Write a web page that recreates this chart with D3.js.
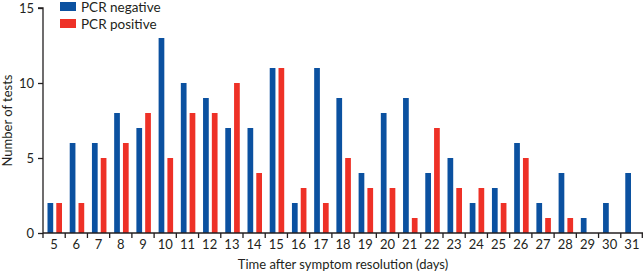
<!DOCTYPE html>
<html>
<head>
<meta charset="utf-8">
<script src="https://cdn.jsdelivr.net/npm/d3@7"></script>
<style>
  body { margin: 0; background: #fff; }
  text { font-family: Lato, "Open Sans", sans-serif; fill: #231f20; }
</style>
</head>
<body>
<svg id="chart"></svg>
<script>
var days = [5,6,7,8,9,10,11,12,13,14,15,16,17,18,19,20,21,22,23,24,25,26,27,28,29,30,31];
var pcrNegative = [2,6,6,8,7,13,10,9,7,7,11,2,11,9,4,8,9,4,5,2,3,6,2,4,1,2,4];
var pcrPositive = [2,2,5,6,8,5,8,8,10,4,11,3,2,5,3,3,1,7,3,3,2,5,1,1,0,0,0];
var yTicks = [0, 5, 10, 15];

var margin = {top: 8, left: 43, right: 0, bottom: 40};
var width = 643, height = 273;
var chartWidth = width - margin.left - margin.right;
var chartHeight = height - margin.top - margin.bottom;

var svg = d3.select('#chart')
    .attr('width', width)
    .attr('height', height);

var chartArea = svg.append('g')
    .attr('transform', `translate(${margin.left},${margin.top})`);

var xScale = d3.scaleBand()
    .domain(days)
    .range([0, chartWidth]);

var sub = d3.scaleBand()
    .domain(['neg', 'pos'])
    .range([4.5, 19])
    .paddingInner(0.35);

var yScale = d3.scaleLinear()
    .domain([0, 15])
    .range([chartHeight, 0]);

var rows = days.map(function (d, i) {
    return {day: d, neg: pcrNegative[i], pos: pcrPositive[i]};
});

var colors = {neg: '#0b51a0', pos: '#ee3127'};

chartArea.append('g').selectAll('rect')
    .data(rows.flatMap(function (r) {
        return [{day: r.day, key: 'neg', v: r.neg}, {day: r.day, key: 'pos', v: r.pos}];
    }).filter(function (d) { return d.v > 0; }))
    .enter()
    .append('rect')
    .attr('x', function (d) { return xScale(d.day) + sub(d.key); })
    .attr('width', sub.bandwidth())
    .attr('y', function (d) { return yScale(d.v); })
    .attr('height', function (d) { return chartHeight - yScale(d.v); })
    .attr('fill', function (d) { return colors[d.key]; });

// y axis
var yAxis = chartArea.append('g')
    .call(d3.axisLeft(yScale).tickValues(yTicks).tickSize(5).tickPadding(4));
yAxis.select('.domain').attr('stroke', '#231f20').attr('stroke-width', 1.3)
    .attr('d', `M-5,0H0V${chartHeight}`);
yAxis.selectAll('line').attr('stroke', '#231f20').attr('stroke-width', 1.3);
yAxis.selectAll('text').style('font-size', '13px');

// x axis
var xAxis = chartArea.append('g')
    .attr('transform', `translate(0,${chartHeight})`)
    .call(d3.axisBottom(xScale).tickSize(0).tickPadding(7));
xAxis.select('.domain').attr('stroke', '#231f20').attr('stroke-width', 1.3)
    .attr('d', `M0,0H${chartWidth}`);
xAxis.selectAll('text').style('font-size', '13px');

// x tick marks sit on the band edges
chartArea.append('g').selectAll('line')
    .data(days.concat(['end']))
    .enter()
    .append('line')
    .attr('x1', function (d) { return d === 'end' ? chartWidth - 0.7 : xScale(d); })
    .attr('x2', function (d) { return d === 'end' ? chartWidth - 0.7 : xScale(d); })
    .attr('y1', chartHeight)
    .attr('y2', chartHeight + 5)
    .attr('stroke', '#231f20')
    .attr('stroke-width', 1.3);

// axis labels
svg.append('text')
    .attr('x', margin.left + chartWidth / 2)
    .attr('y', 269)
    .attr('text-anchor', 'middle')
    .style('font-size', '13px')
    .text('Time after symptom resolution (days)');

svg.append('text')
    .attr('transform', `translate(12,${margin.top + chartHeight / 2}) rotate(-90)`)
    .attr('text-anchor', 'middle')
    .style('font-size', '13px')
    .text('Number of tests');

// legend
var legend = svg.append('g').attr('transform', 'translate(60,0)');
var legendItems = [{key: 'neg', label: 'PCR negative'}, {key: 'pos', label: 'PCR positive'}];
legend.selectAll('rect')
    .data(legendItems)
    .enter()
    .append('rect')
    .attr('x', 0)
    .attr('y', function (d, i) { return 2 + i * 17; })
    .attr('width', 16)
    .attr('height', 9)
    .attr('fill', function (d) { return colors[d.key]; });
legend.selectAll('text')
    .data(legendItems)
    .enter()
    .append('text')
    .attr('x', 21)
    .attr('y', function (d, i) { return 12 + i * 17; })
    .style('font-size', '13.5px')
    .text(function (d) { return d.label; });
</script>
</body>
</html>
